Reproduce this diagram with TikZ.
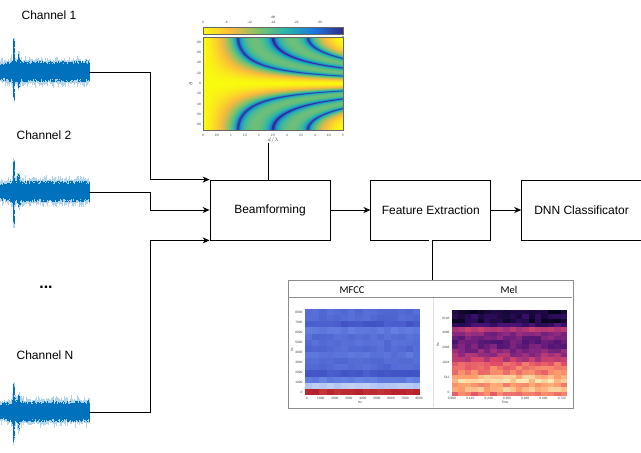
\documentclass[tikz,border=0pt]{standalone}
\usepackage{fontspec}
\setmainfont{Liberation Sans}
\newfontfamily\panelfont{Carlito}
\usetikzlibrary{positioning,arrows.meta}

\definecolor{wavecol}{HTML}{0072BD}
\colorlet{wavelight}{wavecol!30}
\definecolor{bp0}{HTML}{F9FB0E}
\definecolor{bp1}{HTML}{FBBA3E}
\definecolor{bp2}{HTML}{7CC26E}
\definecolor{bp3}{HTML}{23B3AE}
\definecolor{bp4}{HTML}{1C74DF}
\definecolor{bp5}{HTML}{352A87}
\definecolor{mg0}{HTML}{05041A}
\definecolor{mg1}{HTML}{3B0F70}
\definecolor{mg2}{HTML}{8C2981}
\definecolor{mg3}{HTML}{DE4968}
\definecolor{mg4}{HTML}{FE9F6D}
\definecolor{mg5}{HTML}{FCF3BF}
\definecolor{mfccdark}{HTML}{3B4CC0}
\definecolor{mfcclight}{HTML}{7C9EF5}
\definecolor{mfccpale}{HTML}{C4D2F2}
\definecolor{mfccred}{HTML}{B31B2C}
\definecolor{mfccred2}{HTML}{D5503F}

\newcommand{\cmapmix}[3]{%
  \pgfmathsetmacro\cmt{min(max(#2,0),4.999)}%
  \pgfmathtruncatemacro\cmseg{\cmt}%
  \pgfmathtruncatemacro\cmnext{\cmseg+1}%
  \pgfmathtruncatemacro\cmpct{(\cmt-\cmseg)*100}%
  \colorlet{#3}{#1\cmnext!\cmpct!#1\cmseg}}

\newcommand{\wavedraw}[2]{%
  \pgfmathsetseed{#2}%
  \foreach \i in {0,...,296}{
    \pgfmathsetmacro\xx{\i*0.3}
    \pgfmathsetmacro\env{8+2.5*min(1,\xx/12)+24*exp(max(-30,-(\xx-13.8)*(\xx-13.8)/0.7))+7*exp(max(-30,-(\xx-18.5)*(\xx-18.5)/2))}
    \pgfmathsetmacro\up{\env*(0.75+0.35*rnd)}
    \pgfmathsetmacro\dn{\env*(0.65+0.35*rnd)}
    \draw[wavelight,line width=0.45pt] (\xx,#1-\up-1-5*rnd^4) -- (\xx,#1+\dn+1+5*rnd^4);
    \draw[wavecol,line width=0.45pt] (\xx,#1-\up) -- (\xx,#1+\dn);
  }}

\tikzset{
  block/.style={draw,line width=0.8pt,minimum width=120pt,minimum height=60pt,inner sep=0pt,font=\fontsize{12}{14}\selectfont},
  arr/.style={-{Stealth[length=7pt,width=6pt]},line width=0.8pt},
  dbl/.style={double,double distance=3pt,line width=0.8pt},
  chlabel/.style={font=\fontsize{12}{14}\selectfont},
  ticklbl/.style={font=\fontsize{3.2}{3.5}\selectfont,inner sep=0.4pt,text=black!75},
  paneltitle/.style={font=\panelfont\fontsize{10.5}{12}\selectfont},
}

\begin{document}
\begin{tikzpicture}[x=1pt,y=-1pt]
\useasboundingbox (0,0) rectangle (641,453);

\node[block] (beam) at (270,210) {Beamforming};
\node[block,right=40pt of beam] (feat) {Feature Extraction};
\node[block,right=30pt of feat] (dnn) {DNN Classificator};

\foreach \ch/\cy/\sd/\lx/\ly in {1/72/3/49/15,2/192/5/44/135,N/412/9/45/355}{
  \wavedraw{\cy}{\sd}
  \node[minimum width=89pt,minimum height=50pt,inner sep=0pt,anchor=west] (wave\ch) at (0,\cy) {};
  \node[chlabel] (lab\ch) at (\lx,\ly) {Channel \ch};
}
\node[font=\fontsize{16}{18}\selectfont\bfseries] (dots) at (46,287) {...};

\draw[arr] (wave1.east) -- ++(61,0) |- (beam.north west);
\draw[arr] (wave2.east) -- ++(61,0) |- (beam.west);
\draw[arr] (waveN.east) -- ++(61,0) |- (beam.south west);
\draw[arr] (beam) -- (feat);
\draw[arr] (feat) -- (dnn);

% beam pattern
\node[minimum width=154pt,minimum height=131pt,inner sep=0pt,anchor=north] (beampat) at (270,12) {};
\begin{scope}[shift={(203,83.5)},x=28pt,y=-0.5167pt]
  \clip (0,-90) rectangle (5,90);
  \fill[bp0] (0,-90) rectangle (5,90);
  \foreach \uu in {0.05,0.10,...,4.95}{
    \pgfmathsetmacro\um{\uu+0.025}
    \pgfmathsetmacro\af{abs(sin(144*\um))/(4*abs(sin(36*\um)))}
    \pgfmathsetmacro\lvl{5*(min(1,-8.6859*ln(max(\af,0.001))/36))^0.72}
    \cmapmix{bp}{\lvl}{bpcur}
    \pgfmathsetmacro\pz{asin(\uu/5)}
    \fill[bpcur] (5,-90) -- plot[domain=0:1,samples=40,variable=\ss] ({\uu/sin(\pz*(90/\pz)^\ss)},{-\pz*(90/\pz)^\ss}) -- cycle;
    \fill[bpcur] (5,90) -- plot[domain=0:1,samples=40,variable=\ss] ({\uu/sin(\pz*(90/\pz)^\ss)},{\pz*(90/\pz)^\ss}) -- cycle;
  }
\end{scope}
\draw[black!60,line width=0.3pt] (203,37) rectangle (343,130);
\foreach \kk in {0,...,4}{
  \pgfmathtruncatemacro\kn{\kk+1}
  \shade[left color=bp\kk,right color=bp\kn] (203+28*\kk,27) rectangle (231+28*\kk,34);
}
\draw[black!60,line width=0.3pt] (203,27) rectangle (343,34);
\foreach \val [count=\kk] in {0,-6,-12,-18,-24,-30}
  \node[ticklbl] (cb\kk) at (203+23.33*\kk-23.33,22.5) {\val};
\node[ticklbl] (cbunit) at (273,17) {dB};
\foreach \val [count=\kk] in {0,0.5,1,1.5,2,2.5,3,3.5,4,4.5,5}
  \node[ticklbl] (bpx\kk) at (203+28*\val,135.5) {\val};
\foreach \val [count=\kk] in {-80,-60,-40,-20,0,20,40,60,80}
  \node[ticklbl,anchor=east] (bpy\kk) at (201.5,83.5+0.5167*\val) {\val};
\node[ticklbl] (bpxl) at (273,140.5) {$d/\lambda$};
\node[ticklbl,rotate=90] (bpyl) at (191,83.5) {$\theta$};

\draw[dbl] (beampat.south) -- (beam.north);

% spectrograms
\node[draw=black!45,line width=0.8pt,minimum width=285pt,minimum height=128pt,inner sep=0pt,below=40pt of feat] (specs) {};
\draw[dbl] (feat.south) -- (specs.north);
\draw[black!45,line width=0.6pt] (288,297) -- (572,297);
\draw[black!12,line width=0.6pt] (433,298) -- (433,407);
\node[paneltitle] (mfcctitle) at (352,290) {MFCC};
\node[paneltitle] (meltitle) at (509,290) {Mel};

\pgfmathsetseed{21}
\foreach \col in {0,...,15}{
  \pgfmathtruncatemacro\mixp{45+55*rnd}
  \fill[mfccred!\mixp!mfccred2] (305+7.1875*\col,395) rectangle ++(7.1875,-6.143);
  \pgfmathtruncatemacro\mixp{70+30*rnd}
  \fill[mfccpale!\mixp!mfcclight] (305+7.1875*\col,388.857) rectangle ++(7.1875,-6.143);
}
\foreach \row/\base in {2/40,3/85,4/65,5/62,6/52,7/65,8/60,9/62,10/45,11/82,12/65,13/62}{
  \foreach \col in {0,...,15}{
    \pgfmathtruncatemacro\mixp{min(100,max(0,\base+18*(rnd-0.5)))}
    \fill[mfccdark!\mixp!mfcclight] (305+7.1875*\col,395-6.143*\row) rectangle ++(7.1875,-6.143);
  }
}
\foreach \val [count=\kk] in {0,1000,2000,3000,4000,5000,6000,7000,8000}{
  \node[ticklbl,anchor=east] (mfy\kk) at (303,402-9.95*\kk) {\val};
  \node[ticklbl] (mfx\kk) at (292.7+14.04*\kk,398.5) {\val};
}
\node[ticklbl] (mfxl) at (360,402.5) {Hz};
\node[ticklbl,rotate=90] (mfyl) at (292,350) {Hz};

\pgfmathsetseed{33}
\foreach \row/\lv in {0/0.2,1/0.6,2/0.4,3/1.0,4/2.5,5/1.9,6/1.7,7/1.5,8/1.6,9/1.9,10/2.2,11/2.6,12/3.3,13/3.5,14/3.6,15/4.3,16/4.6,17/3.9,18/4.3,19/3.5}{
  \foreach \col in {0,...,17}{
    \pgfmathsetmacro\melv{\lv+0.7*(rnd-0.5)}
    \cmapmix{mg}{\melv}{melcur}
    \fill[melcur] (452+6.389*\col,310+4.3*\row) rectangle ++(6.389,4.3);
  }
}
\foreach \val/\yy [count=\kk] in {8192/318,4096/332,2048/347,1024/362,512/377,0/392}
  \node[ticklbl,anchor=east] (mely\kk) at (450,\yy) {\val};
\foreach \val [count=\kk] in {0.000,0.120,0.240,0.360,0.480,0.600,0.720}
  \node[ticklbl] (melx\kk) at (433.7+18.3*\kk,398.5) {\val};
\node[ticklbl] (melxl) at (505,402.5) {Time};
\node[ticklbl,rotate=90] (melyl) at (438,345) {Hz};
\end{tikzpicture}
\end{document}
